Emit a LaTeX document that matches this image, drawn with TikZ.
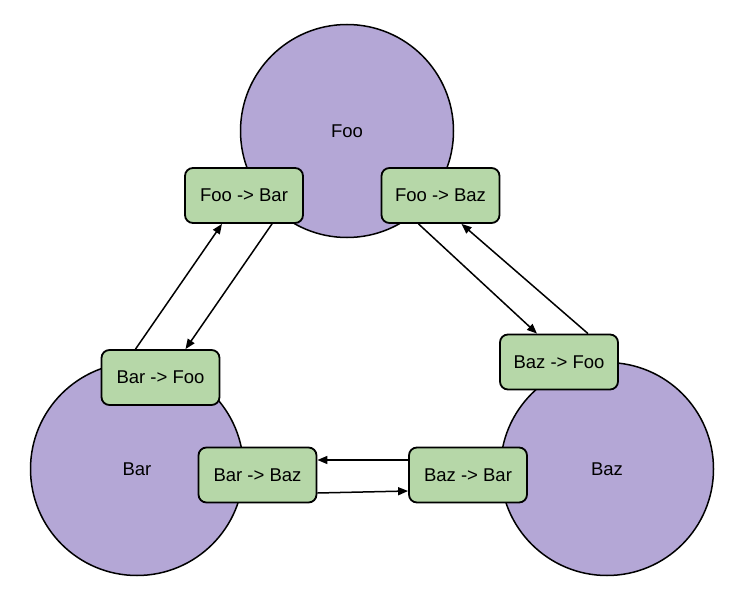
\documentclass[tikz,border=0pt]{standalone}
\usepackage{fontspec}
\setmainfont{Liberation Sans}
\usetikzlibrary{arrows.meta}
\definecolor{statepurple}{HTML}{B4A7D6}
\definecolor{transgreen}{HTML}{B6D7A8}
\begin{document}
\begin{tikzpicture}[x=1pt,y=-1pt,
  statecirc/.style={circle,draw=black,line width=1.5pt,fill=statepurple,minimum size=213pt,inner sep=0pt,font=\fontsize{18.5}{21}\selectfont},
  transbox/.style={rectangle,rounded corners=8pt,draw=black,line width=1.8pt,fill=transgreen,minimum width=118pt,minimum height=55pt,inner sep=0pt,font=\fontsize{18.5}{21}\selectfont},
  conn/.style={line width=1.5pt,-{Triangle[length=10pt,width=8pt]}}]
\useasboundingbox (0,0) rectangle (755,615);
\node[statecirc] (foo) at (347,131) {Foo};
\node[statecirc] (bar) at (137,469) {Bar};
\node[statecirc] (baz) at (607,469) {Baz};
\node[transbox] (foobar) at (244,195.5) {Foo -> Bar};
\node[transbox] (foobaz) at (440.5,195.5) {Foo -> Baz};
\node[transbox] (barfoo) at (160.5,377.5) {Bar -> Foo};
\node[transbox] (bazfoo) at (559,362) {Baz -> Foo};
\node[transbox] (barbaz) at (257.5,475) {Bar -> Baz};
\node[transbox] (bazbar) at (468,475) {Baz -> Bar};
\draw[conn] ([xshift=-25pt]barfoo.north) -- ([xshift=-22pt]foobar.south);
\draw[conn] ([xshift=28pt]foobar.south) -- ([xshift=25pt]barfoo.north);
\draw[conn] ([xshift=-22pt]foobaz.south) -- ([xshift=-22pt]bazfoo.north);
\draw[conn] ([xshift=29pt]bazfoo.north) -- ([xshift=21pt]foobaz.south);
\draw[conn] ([yshift=15pt]bazbar.west) -- ([yshift=15pt]barbaz.east);
\draw[conn] ([yshift=-18pt]barbaz.east) -- ([yshift=-16pt]bazbar.west);
\end{tikzpicture}
\end{document}
